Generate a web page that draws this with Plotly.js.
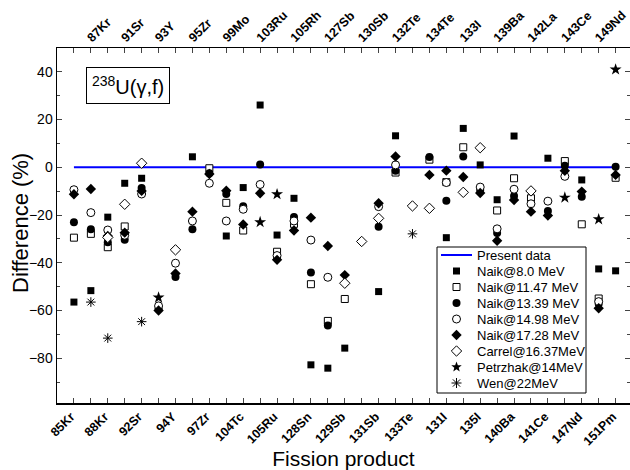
<!DOCTYPE html>
<html><head><meta charset="utf-8">
<script src="https://cdn.plot.ly/plotly-3.0.1.min.js"></script>
<style>body{margin:0;background:#fff}#chart{width:630px;height:470px}</style>
</head><body><div id="chart"></div>
<script>
// ---- data ----
const products = ["85Kr","87Kr","88Kr","91Sr","92Sr","93Y","94Y","95Zr","97Zr","99Mo","104Tc","103Ru","105Ru","105Rh","128Sn","127Sb","129Sb","130Sb","131Sb","132Te","133Te","134Te","131I","133I","135I","139Ba","140Ba","142La","141Ce","143Ce","147Nd","149Nd","151Pm"];
const bottomLabels = ["85Kr","88Kr","92Sr","94Y","97Zr","104Tc","105Ru","128Sn","129Sb","131Sb","133Te","131I","135I","140Ba","141Ce","147Nd","151Pm"];
const topLabels = ["87Kr","91Sr","93Y","95Zr","99Mo","103Ru","105Rh","127Sb","130Sb","132Te","134Te","133I","139Ba","142La","143Ce","149Nd"];
const presentData = [0,0,0,0,0,0,0,0,0,0,0,0,0,0,0,0,0,0,0,0,0,0,0,0,0,0,0,0,0,0,0,0,0];
const naik8_0   = [-56.5,-51.7,-20.9,-6.7,-4.6,null,null,4.4,null,-28.8,-8.5,26.1,-28.4,-13,-82.8,-84.2,-75.8,null,-52.1,13.2,null,null,-29.5,16.3,1.0,-13.6,13.1,null,3.8,null,-5.3,-42.6,-43.4];
const naik11_47 = [-29.5,-27.9,-33.5,-24.8,null,null,null,null,-0.4,-14.9,-26.5,null,-35.4,-23.7,-49,-64.4,-55.2,null,null,-2.2,null,3.2,-6.2,8.4,null,-18.1,-4.6,-13,null,2.6,-23.9,-55,-4.4];
const naik13_39 = [-23,-26,-31.4,-30.4,-8.7,-59.1,-46,-26,-2.5,-11.2,-16.3,1.2,-37.8,-20.8,-44.1,-66.3,null,null,-24.9,-1.5,null,4.3,-14,4.5,-9.5,-27.5,-12,null,-18.3,0.6,-12.4,-57.2,0.2];
const naik14_98 = [-9.4,-19,-26.3,-28.5,-11.2,-58.1,-40.2,-22.5,-6.7,-22.5,-17.6,-7.2,-37,-22.5,-30.5,-46.1,null,null,-16.5,1,null,null,-6.4,null,-8.3,-25.8,-9.2,-15.3,-14.2,-3.8,null,-56.3,null];
const naik17_28 = [-11.3,-9.1,-28.8,-27.4,-9.9,-60,-44.5,-18.6,-2.8,-9.8,-24,-10.9,-38.8,-26.5,-21.1,-33,-45.2,null,-15.1,4.5,null,-3.2,-1.4,-4.1,-10.8,-30.8,-13.7,-18.6,-20.2,-1.5,-10.2,-59.1,-3.2];
const carrel    = [null,null,-29.4,-15.5,1.7,null,-34.6,null,null,null,null,null,null,null,null,null,-48.6,-31.1,-21.4,null,-16.2,-17.2,null,-10.5,8.2,null,null,-9.9,null,null,null,null,null];
const petrzhak  = [null,null,null,null,null,-54.6,null,null,null,null,null,-23,-11.3,null,null,null,null,null,null,null,null,null,null,null,null,null,null,null,null,-12.7,null,-21.8,41];
const wen       = [null,-56.5,-71.6,null,-64.7,null,null,null,null,null,null,null,null,null,null,null,null,null,null,null,-27.9,null,null,null,null,null,null,null,null,null,null,null,null];
const seriesNames = ["Naik@8.0 MeV","Naik@11.47 MeV","Naik@13.39 MeV","Naik@14.98 MeV","Naik@17.28 MeV","Carrel@16.37MeV","Petrzhak@14MeV","Wen@22MeV"];

// ---- styles ----
const FONT = "Liberation Sans, Arial, sans-serif";
const ML = 57, MT = 48, PW = 573, PH = 355;
const styles = [
  {symbol:"square", size:7, color:"#000", line:{color:"#000", width:0}},
  {symbol:"square", size:7, color:"#fff", line:{color:"#000", width:1}},
  {symbol:"circle", size:8, color:"#000", line:{color:"#000", width:0}},
  {symbol:"circle", size:8, color:"#fff", line:{color:"#000", width:1}},
  {symbol:"diamond", size:8, color:"#000", line:{color:"#000", width:0}},
  {symbol:"diamond", size:8, color:"#fff", line:{color:"#000", width:1}},
  {symbol:"star", size:9, color:"#000", line:{color:"#000", width:0}},
  {symbol:"asterisk-open", size:8, color:"#000", line:{color:"#000", width:1}}
];
const seriesData = [naik8_0, naik11_47, naik13_39, naik14_98, naik17_28, carrel, petrzhak, wen];

// category index positions on a linear axis (1..33)
const xPos = products.map((p, i) => i + 1);
const bottomVals = bottomLabels.map(l => products.indexOf(l) + 1);
const topVals = topLabels.map(l => products.indexOf(l) + 1);

const traces = [];
traces.push({x:xPos, y:presentData, type:"scatter", mode:"lines", name:"Present data",
  line:{color:"#0000ff", width:2}, showlegend:false, hoverinfo:"skip"});
seriesData.forEach((d,i)=>{
  traces.push({x:xPos, y:d, type:"scatter", mode:"markers", name:seriesNames[i],
    marker:styles[i], showlegend:false, cliponaxis:false});
});
// anchor trace for top axis
traces.push({x:topVals, y:topVals.map(()=>null), xaxis:"x2", type:"scatter", mode:"markers", showlegend:false, hoverinfo:"skip"});

// ---- manual legend ----
const px2x = p => (p - ML) / PW;
const py2y = p => (MT + PH - p) / PH;
const shapes = [];
const annotations = [];
shapes.push({type:"rect", xref:"paper", yref:"paper", x0:px2x(437), x1:px2x(586), y0:py2y(393), y1:py2y(247),
  line:{color:"#000", width:1}, fillcolor:"#fff", layer:"above"});
const legNames = ["Present data"].concat(seriesNames);
const gx = 456.5, tx = 475;
function starPath(R, r){
  let s = "";
  for(let k=0;k<10;k++){
    const a = Math.PI/2 + k*Math.PI/5;
    const rr = k%2===0 ? R : r;
    s += (k===0?"M":"L") + (rr*Math.cos(a)).toFixed(2) + "," + (rr*Math.sin(a)).toFixed(2);
  }
  return s + "Z";
}
legNames.forEach((nm, i)=>{
  const yc = 255 + 16*i;
  annotations.push({xref:"paper", yref:"paper", x:px2x(tx), y:py2y(yc), xanchor:"left", yanchor:"middle",
    text:nm, showarrow:false, font:{family:FONT, size:13, color:"#000"}});
  const base = {xref:"paper", yref:"paper", xsizemode:"pixel", ysizemode:"pixel", xanchor:px2x(gx), yanchor:py2y(yc), layer:"above"};
  if(i===0){
    shapes.push({type:"line", xref:"paper", yref:"paper", x0:px2x(441), x1:px2x(472), y0:py2y(yc), y1:py2y(yc), line:{color:"#0000ff", width:2}, layer:"above"});
    return;
  }
  const st = styles[i-1];
  const fill = st.color, lw = st.line.width, ln = {color:"#000", width:lw||0.01};
  if(st.symbol==="square") shapes.push(Object.assign({type:"rect", x0:-3.5, x1:3.5, y0:-3.5, y1:3.5, fillcolor:fill, line:ln}, base));
  else if(st.symbol==="circle") shapes.push(Object.assign({type:"circle", x0:-4, x1:4, y0:-4, y1:4, fillcolor:fill, line:ln}, base));
  else if(st.symbol==="diamond") shapes.push(Object.assign({type:"path", path:"M0,5.2L5.2,0L0,-5.2L-5.2,0Z", fillcolor:fill, line:ln}, base));
  else if(st.symbol==="star") shapes.push(Object.assign({type:"path", path:starPath(5.5,2.3), fillcolor:"#000", line:{color:"#000", width:0.01}}, base));
  else shapes.push(Object.assign({type:"path", path:"M-5,0L5,0M0,-5L0,5M-3.6,-3.6L3.6,3.6M-3.6,3.6L3.6,-3.6", line:{color:"#000", width:1}}, base));
});
annotations.push({xref:"paper", yref:"paper", x:px2x(128), y:py2y(85), xanchor:"center", yanchor:"middle",
  text:"<sup>238</sup>U(γ,f)", showarrow:false, font:{family:FONT, size:20, color:"#000"},
  bordercolor:"#000", borderwidth:1, borderpad:5, bgcolor:"#fff"});
// y-axis title placed as a rotated annotation
annotations.push({xref:"paper", yref:"paper", x:px2x(20), y:py2y(223), xanchor:"center", yanchor:"middle",
  text:"Difference (%)", textangle:-90, showarrow:false, font:{family:FONT, size:22, color:"#000"}});

const tickFont = {family:FONT, size:12.5, color:"#000", weight:"bold"};
const layout = {
  width:630, height:470,
  margin:{l:ML, r:0, t:MT, b:470-MT-PH},
  paper_bgcolor:"#fff", plot_bgcolor:"#fff",
  font:{family:FONT, color:"#000"},
  showlegend:false,
  xaxis:{range:[0, 33.85], tickmode:"array", tickvals:bottomVals, ticktext:bottomLabels, tickangle:-45,
    ticks:"inside", ticklen:5, tickwidth:1, ticklabeloverflow:"allow", ticklabelshift:-3,
    minor:{tickmode:"array", tickvals:topVals, ticks:"inside", ticklen:5, tickwidth:1},
    showline:true, linecolor:"#000", linewidth:1.5, mirror:"ticks", showgrid:false, zeroline:false,
    tickfont:tickFont,
    title:{text:"Fission product", font:{family:FONT, size:21, color:"#000"}, standoff:4}},
  xaxis2:{range:[0, 33.85], overlaying:"x", side:"top", tickmode:"array", ticklabeloverflow:"allow", ticklabelshift:-3,
    tickvals:topVals, ticktext:topLabels, tickangle:-45, ticks:"", showline:false, showgrid:false, zeroline:false,
    tickfont:tickFont},
  yaxis:{range:[-98.8, 50], tickvals:[-80,-60,-40,-20,0,20,40], ticks:"inside", ticklen:5, tickwidth:1,
    minor:{ticks:"inside", ticklen:3, tickvals:[-90,-70,-50,-30,-10,10,30,50]},
    showline:true, linecolor:"#000", linewidth:1.5, mirror:"ticks", showgrid:false, zeroline:false,
    tickfont:{family:FONT, size:14, color:"#000"}},
  shapes:shapes, annotations:annotations
};
Plotly.newPlot("chart", traces, layout, {displayModeBar:false, staticPlot:true});
</script></body></html>
